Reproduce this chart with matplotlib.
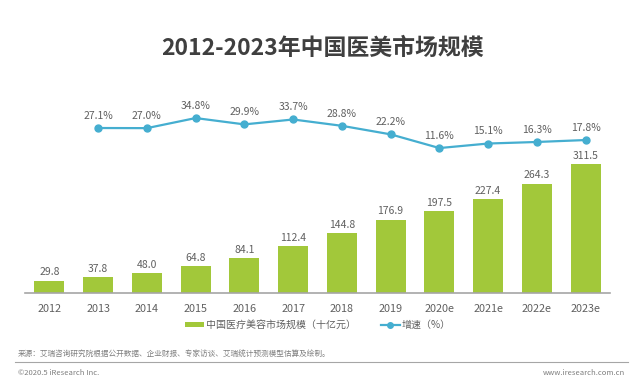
import matplotlib.pyplot as plt

plt.rcParams['font.family'] = ['Noto Sans CJK SC', 'DejaVu Sans']

# data
years = ['2012', '2013', '2014', '2015', '2016', '2017', '2018', '2019',
         '2020e', '2021e', '2022e', '2023e']
market = [29.8, 37.8, 48.0, 64.8, 84.1, 112.4, 144.8, 176.9, 197.5, 227.4, 264.3, 311.5]
growth = [27.1, 27.0, 34.8, 29.9, 33.7, 28.8, 22.2, 11.6, 15.1, 16.3, 17.8]

bar_color = '#a2c83a'
line_color = '#45aed0'
txt = '#606060'

fig = plt.figure(figsize=(6.4, 3.87), dpi=100)
ax = fig.add_axes([25 / 640, 1 - 293 / 387, 585 / 640, 193 / 387])
x = list(range(len(years)))
bars = ax.bar(x, market, width=0.62, color=bar_color, label='中国医疗美容市场规模（十亿元）')
for xi, v in zip(x, market):
    ax.text(xi, v + 8, f'{v:.1f}', ha='center', va='bottom', fontsize=7.5, color=txt)
ax.set_xlim(-0.5, 11.5)
ax.set_ylim(0, 193 / 0.414)
ax.set_xticks(x)
ax.set_xticklabels(years, fontsize=7.8, color=txt)
ax.tick_params(axis='x', length=0, pad=8)
ax.set_yticks([])
for s in ['top', 'right', 'left']:
    ax.spines[s].set_visible(False)
ax.spines['bottom'].set_color('#a6a6a6')
ax.spines['bottom'].set_linewidth(1.2)

ax2 = ax.twinx()
gx = x[1:]
ln, = ax2.plot(gx, growth, color=line_color, lw=1.6, marker='o', ms=5,
               label='增速（%）')
for xi, v in zip(gx, growth):
    ax2.text(xi, v + 5.5, f'{v:.1f}%', ha='center', va='bottom', fontsize=7.5, color=txt)
ax2.set_ylim(-100.5, -100.5 + 193 / 1.293)
ax2.set_yticks([])
for s in ['top', 'right', 'left', 'bottom']:
    ax2.spines[s].set_visible(False)

fig.legend(handles=[bars, ln], loc='center', bbox_to_anchor=(318 / 640, 1 - 325 / 387),
           ncol=2, frameon=False, fontsize=7.2, labelcolor=txt,
           handlelength=1.9, handleheight=0.5, columnspacing=2.5, handletextpad=0.2,
           markerscale=0.8)

fig.text(322 / 640, 1 - 48 / 387, '2012-2023年中国医美市场规模', ha='center', va='center',
         fontsize=16.5, fontweight='bold', color='#3f3f3f')

fig.text(18 / 640, 1 - 355 / 387, '来源：艾瑞咨询研究院根据公开数据、企业财报、专家访谈、艾瑞统计预测模型估算及绘制。',
         fontsize=5.5, color='#7f7f7f', va='center')
fig.add_artist(plt.Line2D([15 / 640, 628 / 640], [1 - 362 / 387, 1 - 362 / 387],
                          color='#a6a6a6', lw=0.8))
fig.text(18 / 640, 1 - 373 / 387, '©2020.5 iResearch Inc.', fontsize=5.5,
         color='#7f7f7f', va='center')
fig.text(625 / 640, 1 - 373 / 387, 'www.iresearch.com.cn', fontsize=5.5,
         color='#7f7f7f', va='center', ha='right')

fig.savefig('out.png', dpi=100)
